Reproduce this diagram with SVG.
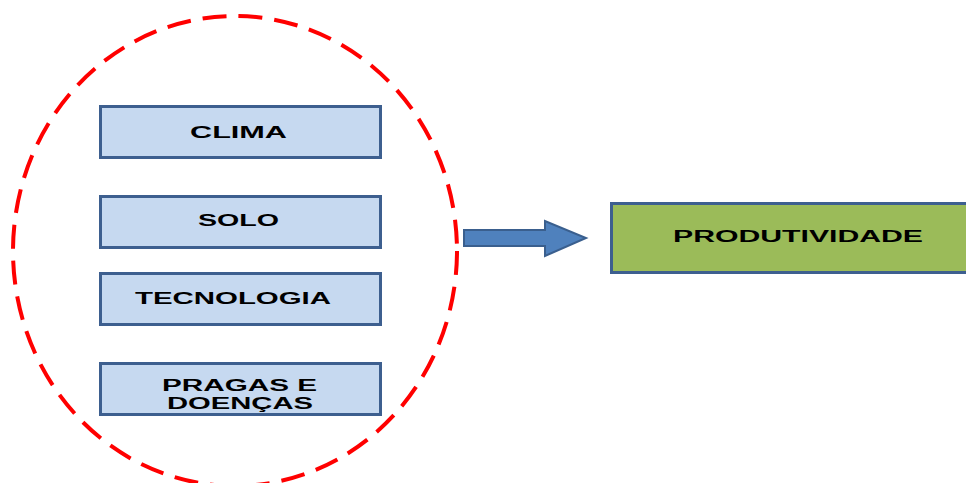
<svg xmlns="http://www.w3.org/2000/svg" width="966" height="483" viewBox="0 0 966 483">
<style>
.box{fill:#C6D9F0;stroke:#3D5F8F;stroke-width:3}
.t{font-family:"Liberation Sans",Arial,sans-serif;font-weight:bold;font-size:16px;fill:#000}
</style>
<rect width="966" height="483" fill="#fff"/>
<g id="group-ellipse">
<ellipse cx="235" cy="251" rx="222" ry="235" fill="none" stroke="#FF0000" stroke-width="4" stroke-dasharray="24,12"/>
</g>
<g id="clima"><rect class="box" x="100.5" y="106.5" width="280" height="51"/><text class="t" x="190" y="138" textLength="97" lengthAdjust="spacingAndGlyphs">CLIMA</text></g>
<g id="solo"><rect class="box" x="100.5" y="196.5" width="280" height="51"/><text class="t" x="198" y="226" textLength="81" lengthAdjust="spacingAndGlyphs">SOLO</text></g>
<g id="tecnologia"><rect class="box" x="100.5" y="273.5" width="280" height="51"/><text class="t" x="135" y="304" textLength="196" lengthAdjust="spacingAndGlyphs">TECNOLOGIA</text></g>
<g id="pragas"><rect class="box" x="100.5" y="363.5" width="280" height="51"/><text class="t" x="162" y="391" textLength="155" lengthAdjust="spacingAndGlyphs">PRAGAS  E</text><text class="t" x="167" y="409" textLength="146" lengthAdjust="spacingAndGlyphs">DOENÇAS</text></g>
<g id="connectors">
<path d="M464,230 H545 V221 L586,238 L545,256 V246 H464 Z" fill="#4F81BD" stroke="#3A5F8E" stroke-width="2"/>
</g>
<g id="produtividade"><rect x="611.5" y="203.5" width="360" height="69" fill="#9BBB59" stroke="#3D5F8F" stroke-width="3"/><text class="t" x="673" y="242" textLength="250" lengthAdjust="spacingAndGlyphs">PRODUTIVIDADE</text></g>
</svg>
